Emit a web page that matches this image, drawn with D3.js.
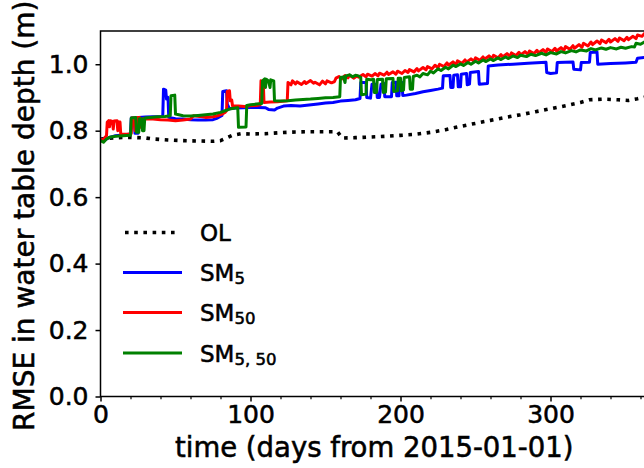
<!DOCTYPE html>
<html>
<head>
<meta charset="utf-8">
<script src="https://cdn.jsdelivr.net/npm/d3@7"></script>
<style>
  html, body { margin: 0; padding: 0; background: #fff; }
  svg { display: block; }
  text { font-family: "DejaVu Sans", sans-serif; fill: #000; stroke: #000; stroke-width: 0.55px; }
</style>
</head>
<body>
<svg id="chart" width="644" height="468"></svg>
<script>
// RMSE in water table depth through 2015, open loop vs. soil-moisture assimilation runs.
// Each series is a list of [day, RMSE (m)] pairs.

const olSeries = [
  [0,0.775],[5,0.777],[10,0.779],[20,0.780],[30,0.778],[35,0.775],[45,0.772],[55,0.770],
  [65,0.769],[75,0.768],[80,0.770],[84,0.778],[88,0.786],[94,0.791],[100,0.790],[110,0.791],
  [120,0.794],[130,0.796],[140,0.797],[150,0.797],[158,0.797],[161,0.778],[170,0.779],
  [180,0.781],[190,0.783],[200,0.786],[210,0.789],[220,0.795],[230,0.803],[240,0.813],
  [250,0.822],[260,0.831],[270,0.840],[280,0.848],[290,0.857],[300,0.866],[310,0.875],
  [320,0.885],[326,0.893],[335,0.895],[345,0.893],[352,0.891],[358,0.896],[365,0.903]
];

const sm5Series = [
  [0,0.775],[3,0.772],[6,0.780],[10,0.785],[15,0.787],[20,0.790],[20.5,0.838],[22.5,0.838],
  [23,0.792],[25,0.792],[25.5,0.840],[30,0.841],[35,0.842],[41.5,0.843],[42,0.925],[43.5,0.922],
  [44,0.895],[45,0.900],[45.5,0.840],[50,0.836],[55,0.835],[60,0.833],[65,0.832],[70,0.832],
  [75,0.833],[78,0.838],[81,0.846],[81.5,0.918],[84,0.920],[84.5,0.880],[86,0.866],[90,0.868],
  [95,0.869],[100,0.870],[105,0.870],[110,0.869],[112,0.864],[116,0.862],[118,0.868],[122,0.874],
  [127,0.876],[133,0.874],[139,0.877],[145,0.880],[150,0.883],[155,0.885],[160,0.889],
  [165,0.891],[170,0.893],[173,0.897],[173.5,0.945],[177,0.945],[177.5,0.900],[180,0.898],
  [181,0.940],[184,0.940],[184.5,0.900],[186,0.900],[187,0.940],[189,0.942],[189.5,0.902],
  [194,0.902],[194.5,0.945],[197,0.946],[197.5,0.905],[199,0.905],[199.5,0.945],[201,0.945],
  [201.5,0.906],[204,0.907],[210,0.912],[215,0.917],[220,0.921],[225,0.925],[228,0.928],
  [228.5,0.965],[233,0.966],[233.5,0.930],[235,0.930],[235.5,0.967],[238,0.968],[238.5,0.932],
  [240,0.932],[240.5,0.970],[244,0.972],[244.5,0.938],[246,0.940],[246.5,0.975],[252,0.978],
  [252.5,0.940],[258,0.942],[258.5,0.995],[265,0.998],[275,1.000],[285,1.003],[297,1.006],
  [297.5,0.975],[300,0.972],[304,0.974],[304.5,1.005],[315,1.007],[315.5,0.985],[320,0.983],
  [320.5,1.005],[326,1.006],[326.5,1.035],[331,1.037],[331.5,1.000],[340,1.002],[350,1.004],
  [357,1.006],[358,1.018],[365,1.022]
];

const sm50Series = [
  [0,0.775],[2,0.772],[3,0.780],[4,0.785],[4.5,0.826],[5.5,0.830],[6,0.812],[6.5,0.830],
  [8,0.828],[8.5,0.805],[9,0.829],[11,0.830],[11.5,0.800],[12,0.826],[13,0.826],[13.5,0.790],
  [16,0.789],[19,0.790],[20.5,0.792],[21,0.838],[22.5,0.838],[23,0.800],[24,0.800],[24.5,0.840],
  [26,0.840],[26.5,0.810],[27,0.835],[30,0.836],[35,0.835],[40,0.833],[45,0.832],[50,0.830],
  [55,0.832],[60,0.835],[62,0.845],[66,0.843],[70,0.840],[75,0.842],[78,0.845],[81,0.850],
  [83,0.855],[84,0.860],[84.5,0.918],[86,0.920],[86.5,0.890],[87.5,0.892],[88,0.875],[92,0.874],
  [96,0.873],[100,0.875],[104,0.876],[106.5,0.878],[107,0.950],[108.5,0.948],[109,0.885],
  [113,0.886],[118,0.887],[123,0.889],[124.5,0.890],[125,0.945],[127,0.938],[128,0.950],
  [130,0.941],[131,0.947],[134,0.939],[136,0.948],[137,0.942],[140,0.951],[142,0.943],
  [143,0.946],[146,0.938],[148,0.949],[150,0.941],[151,0.950],[154,0.944],[156,0.948],
  [157,0.958],[159,0.963],[161,0.956],[163,0.966],[165,0.959],[166,0.967],[169,0.958],
  [171,0.965],[172,0.961],[175,0.969],[177,0.962],[178,0.970],[181,0.964],[183,0.972],
  [185,0.965],[186,0.973],[189,0.967],[191,0.976],[192,0.969],[195,0.977],[197,0.970],
  [198,0.979],[201,0.972],[203,0.981],[205,0.975],[206,0.984],[209,0.977],[211,0.987],
  [212,0.980],[215,0.990],[217,0.983],[218,0.993],[221,0.986],[223,0.997],[225,0.989],
  [226,1.000],[229,0.993],[231,1.004],[232,0.997],[235,1.007],[237,0.999],[238,1.010],
  [241,1.003],[243,1.013],[244,1.006],[247,1.016],[249,1.009],[250,1.019],[253,1.012],
  [255,1.022],[256,1.015],[259,1.025],[261,1.017],[262,1.027],[265,1.019],[267,1.029],
  [268,1.022],[271,1.032],[273,1.024],[274,1.034],[277,1.026],[279,1.036],[280,1.028],
  [283,1.038],[285,1.030],[286,1.040],[289,1.032],[291,1.042],[292,1.034],[295,1.044],
  [297,1.036],[298,1.046],[301,1.038],[303,1.048],[304,1.040],[307,1.050],[309,1.042],
  [310,1.053],[313,1.045],[315,1.056],[316,1.048],[319,1.059],[321,1.051],[322,1.063],
  [325,1.055],[327,1.067],[328,1.059],[331,1.070],[333,1.062],[334,1.073],[337,1.065],
  [339,1.075],[340,1.067],[343,1.077],[345,1.069],[346,1.079],[349,1.071],[351,1.081],
  [352,1.074],[355,1.084],[357,1.077],[358,1.088],[361,1.084],[363,1.094],[365,1.098]
];

const sm5_50Series = [
  [0,0.770],[2,0.765],[4,0.775],[6,0.780],[10,0.783],[15,0.785],[20,0.786],[20.5,0.838],
  [23.5,0.840],[24,0.795],[25.5,0.795],[26,0.836],[27.5,0.836],[28,0.800],[29,0.800],
  [29.5,0.838],[33,0.840],[38,0.842],[43,0.843],[46.5,0.845],[47,0.905],[49.5,0.907],
  [50,0.850],[55,0.845],[60,0.844],[65,0.846],[70,0.848],[75,0.850],[80,0.855],[83,0.860],
  [86,0.865],[90,0.868],[91.5,0.869],[92,0.810],[97,0.811],[97.5,0.876],[100,0.878],
  [104,0.880],[107.5,0.882],[108,0.950],[109.5,0.956],[110,0.930],[110.5,0.955],[112,0.950],
  [113,0.930],[113.5,0.953],[115.5,0.950],[116,0.890],[120,0.889],[125,0.890],[130,0.892],
  [135,0.894],[140,0.895],[145,0.897],[150,0.899],[155,0.900],[159.5,0.902],[160,0.960],
  [162,0.962],[163,0.945],[163.5,0.965],[166,0.968],[168,0.962],[170,0.967],[172,0.965],
  [173.5,0.960],[174,0.908],[177,0.910],[177.5,0.955],[180,0.953],[182,0.955],[182.5,0.915],
  [184,0.915],[184.5,0.954],[188,0.955],[188.5,0.915],[190,0.916],[190.5,0.956],[195,0.957],
  [195.5,0.918],[198,0.920],[198.5,0.958],[200,0.958],[200.5,0.920],[202,0.922],[202.5,0.960],
  [206,0.962],[206.5,0.925],[208,0.925],[208.5,0.963],[211,0.967],[213,0.962],[215,0.972],
  [218,0.968],[220,0.979],[222,0.974],[225,0.986],[227,0.981],[230,0.991],[232,0.986],
  [235,0.997],[237,0.993],[240,1.001],[242,0.996],[245,1.005],[247,1.000],[250,1.009],
  [252,1.004],[255,1.013],[257,1.008],[260,1.016],[262,1.011],[265,1.019],[267,1.014],
  [270,1.022],[272,1.017],[275,1.025],[278,1.020],[280,1.027],[284,1.023],[287,1.030],
  [290,1.026],[294,1.033],[297,1.028],[300,1.035],[304,1.031],[307,1.038],[310,1.034],
  [314,1.041],[317,1.037],[320,1.043],[324,1.040],[327,1.047],[330,1.043],[334,1.049],
  [337,1.045],[340,1.050],[344,1.046],[347,1.051],[350,1.048],[354,1.053],[356,1.052],
  [357,1.063],[360,1.060],[363,1.068],[365,1.070]
];

const xMajorTicks = [0, 100, 200, 300];
const xMinorTicks = [20, 40, 60, 80, 120, 140, 160, 180, 220, 240, 260, 280, 320, 340, 360];
const yTicks = [0.0, 0.2, 0.4, 0.6, 0.8, 1.0];

const seriesNames = ["OL", "SM5", "SM50", "SM5,50"];
const seriesColors = ["#000000", "#0000ff", "#ff0000", "#008000"];
const seriesData = [olSeries, sm5Series, sm50Series, sm5_50Series];

const svg = d3.select("#chart");
const plot = { left: 100.5, right: 648, top: 31, bottom: 396.5 };

const x = d3.scaleLinear().domain([0, 365]).range([plot.left, plot.right]);
const y = d3.scaleLinear().domain([0, 1.1]).range([plot.bottom, plot.top]);

svg.append("defs").append("clipPath").attr("id", "plot-clip")
  .append("rect")
  .attr("x", plot.left).attr("y", plot.top)
  .attr("width", plot.right - plot.left).attr("height", plot.bottom - plot.top);

const line = d3.line().x(d => x(d[0])).y(d => y(d[1]));

const lines = svg.append("g").attr("clip-path", "url(#plot-clip)");
seriesData.forEach((data, i) => {
  const path = lines.append("path")
    .datum(data)
    .attr("d", line)
    .attr("fill", "none")
    .attr("stroke", seriesColors[i])
    .attr("stroke-linejoin", "round");
  if (i === 0) {
    path.attr("stroke-width", 3.6).attr("stroke-dasharray", "3.6,5.6").attr("stroke-linecap", "butt");
  } else {
    path.attr("stroke-width", 3).attr("stroke-linecap", "butt");
  }
});

// frame
svg.append("rect")
  .attr("x", plot.left).attr("y", plot.top)
  .attr("width", plot.right - plot.left).attr("height", plot.bottom - plot.top)
  .attr("fill", "none").attr("stroke", "#000").attr("stroke-width", 1.5);

// x axis: major ticks with labels, minor ticks without
const xAxis = svg.append("g").attr("transform", `translate(0,${plot.bottom})`)
  .call(d3.axisBottom(x).tickValues(xMajorTicks).tickSize(5).tickPadding(4).tickFormat(d3.format("d")));
xAxis.select(".domain").remove();
xAxis.selectAll("line").attr("stroke-width", 1.5);
xAxis.selectAll("text").attr("font-size", 25).attr("font-family", "DejaVu Sans");

const xMinor = svg.append("g").attr("transform", `translate(0,${plot.bottom})`)
  .call(d3.axisBottom(x).tickValues(xMinorTicks).tickSize(2.8).tickFormat(""));
xMinor.select(".domain").remove();
xMinor.selectAll("line").attr("stroke-width", 1.2);

const yAxis = svg.append("g").attr("transform", `translate(${plot.left},0)`)
  .call(d3.axisLeft(y).tickValues(yTicks).tickSize(5).tickPadding(7).tickFormat(d3.format(".1f")));
yAxis.select(".domain").remove();
yAxis.selectAll("line").attr("stroke-width", 1.5);
yAxis.selectAll("text").attr("font-size", 25).attr("font-family", "DejaVu Sans");

// axis titles
svg.append("text")
  .attr("x", (plot.left + plot.right) / 2).attr("y", 457)
  .attr("text-anchor", "middle").attr("font-size", 27.5)
  .text("time (days from 2015-01-01)");

svg.append("text")
  .attr("transform", `translate(33.5,${(plot.top + plot.bottom) / 2 + 2}) rotate(-90)`)
  .attr("text-anchor", "middle").attr("font-size", 28)
  .text("RMSE in water table depth (m)");

// legend
const legend = svg.append("g");
const legendRows = [
  { main: "OL", sub: "" },
  { main: "SM", sub: "5" },
  { main: "SM", sub: "50" },
  { main: "SM", sub: "5, 50" }
];
const legendY = [232.5, 272.5, 312.5, 353];
legendRows.forEach((row, i) => {
  const ly = legendY[i];
  const seg = legend.append("line")
    .attr("x1", 123).attr("x2", 182).attr("y1", ly).attr("y2", ly)
    .attr("stroke", seriesColors[i]);
  if (i === 0) {
    seg.attr("x1", 125).attr("x2", 180).attr("stroke-width", 3.6).attr("stroke-dasharray", "3.6,5.6");
  } else {
    seg.attr("stroke-width", 3);
  }
  const t = legend.append("text")
    .attr("x", 200).attr("y", ly + 8.7)
    .attr("font-size", 23);
  t.append("tspan").text(row.main);
  if (row.sub) {
    t.append("tspan").attr("font-size", 16.5).attr("dy", 3).text(row.sub);
  }
});
</script>
</body>
</html>
